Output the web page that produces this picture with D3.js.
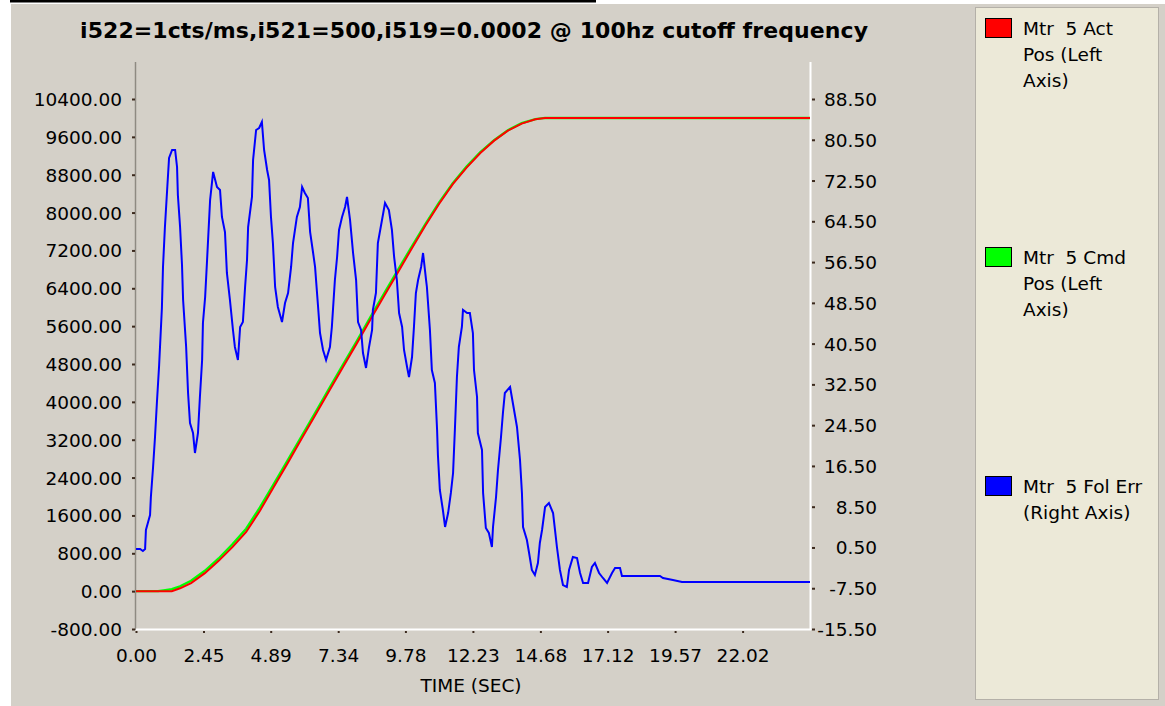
<!DOCTYPE html>
<html><head><meta charset="utf-8">
<script src="https://cdn.jsdelivr.net/npm/d3@7"></script>
<style>
body{margin:0;background:#fff;}
svg{display:block;}
text{font-family:"DejaVu Sans",sans-serif;}
</style>
</head><body>
<svg id="c" width="1165" height="706"></svg>
<script>
// ---------- data ----------
const chartTitle = "i522=1cts/ms,i521=500,i519=0.0002 @ 100hz cutoff frequency";
const xAxisTitle = "TIME (SEC)";
const xTicks = [0, 2.45, 4.89, 7.34, 9.78, 12.23, 14.68, 17.12, 19.57, 22.02];
const leftTicks = [-800, 0, 800, 1600, 2400, 3200, 4000, 4800, 5600, 6400, 7200, 8000, 8800, 9600, 10400];
const rightTicks = [-15.5, -7.5, 0.5, 8.5, 16.5, 24.5, 32.5, 40.5, 48.5, 56.5, 64.5, 72.5, 80.5, 88.5];
const xDomain = [0, 24.467];
const leftDomain = [-800, 10400];
const rightDomain = [-15.5, 88.5];

// position curves (left axis)
const posTime = [0, 0.8, 1.0, 1.3, 1.6, 2.0, 2.5, 3.0, 3.5, 4.0, 4.5, 5.0, 5.5, 6.0, 6.5, 7.0, 7.5, 8.0, 8.5, 9.0, 9.5, 10.0, 10.5, 11.0, 11.5, 12.0, 12.5, 13.0, 13.5, 14.0, 14.5, 14.85, 24.467];
const actPos  = [0, 0, 0, 0, 60, 170, 380, 640, 930, 1250, 1700, 2200, 2700, 3210, 3710, 4220, 4720, 5220, 5730, 6230, 6730, 7230, 7720, 8180, 8600, 8950, 9260, 9520, 9730, 9880, 9970, 10000, 10000];
const cmdPos  = [0, 0, 15, 40, 100, 220, 430, 690, 990, 1320, 1770, 2260, 2760, 3260, 3760, 4270, 4770, 5270, 5780, 6280, 6780, 7270, 7750, 8210, 8620, 8970, 9280, 9530, 9740, 9890, 9975, 10000, 10000];

// following error (right axis): [time, value]
const folErr = [
[0,0.2],[0.15,0.2],[0.25,-0.19],[0.33,0.2],[0.36,3.93],[0.44,5.5],[0.51,6.87],[0.54,10.4],[0.62,16.29],[0.69,22.18],
[0.76,29.04],[0.84,36.3],[0.94,47.49],[0.98,55.54],[1.05,63.38],[1.13,70.65],[1.20,76.92],[1.31,78.5],[1.42,78.5],[1.49,75.16],
[1.52,69.66],[1.60,63.38],[1.67,55.93],[1.71,49.06],[1.82,39.84],[1.89,30.81],[1.96,24.92],[2.07,22.96],[2.14,19.04],[2.25,22.96],
[2.32,30.03],[2.40,37.29],[2.43,44.55],[2.51,49.65],[2.58,56.91],[2.69,68.68],[2.80,74.18],[2.94,71.23],[3.05,70.65],[3.12,65.35],
[3.23,62.4],[3.30,54.36],[3.41,49.06],[3.52,43.17],[3.59,39.84],[3.70,37.29],[3.78,43.76],[3.88,44.74],[3.96,51.61],[4.03,56.91],
[4.07,63.38],[4.21,69.27],[4.25,76.53],[4.36,82.42],[4.47,82.81],[4.57,83.99],[4.65,78.5],[4.76,74.57],[4.83,72.61],[4.90,65.35],
[4.97,60.24],[5.05,51.61],[5.15,47.69],[5.30,44.74],[5.41,48.47],[5.52,50.43],[5.63,55.54],[5.70,60.24],[5.84,65.35],[5.95,67.31],
[6.03,71.23],[6.13,70.06],[6.24,69.08],[6.32,62.4],[6.43,58.28],[6.50,55.54],[6.61,47.69],[6.68,42.58],[6.79,39.25],[6.90,37.29],
[7.04,39.84],[7.11,43.76],[7.22,52.98],[7.30,57.5],[7.37,62.8],[7.48,65.35],[7.59,67.31],[7.66,69.27],[7.77,64.76],[7.88,58.28],
[7.99,52.98],[8.06,44.74],[8.17,43.17],[8.24,38.66],[8.35,35.72],[8.46,39.84],[8.57,43.17],[8.60,47.1],[8.71,50.43],[8.78,60.24],
[8.93,64.76],[9.04,68.09],[9.18,66.72],[9.29,62.8],[9.37,57.5],[9.47,52.98],[9.55,46.51],[9.66,43.76],[9.73,39.25],[9.84,35.91],
[9.91,33.95],[10.02,37.87],[10.09,43.76],[10.16,50.43],[10.24,52.98],[10.35,55.54],[10.42,58.28],[10.53,52.98],[10.56,51.61],[10.67,43.17],
[10.74,35.32],[10.85,32.77],[10.93,23.55],[10.96,18.64],[11.03,11.78],[11.14,7.85],[11.22,4.52],[11.33,7.26],[11.43,11.19],[11.51,15.11],
[11.58,24.14],[11.65,33.95],[11.72,39.84],[11.83,43.76],[11.87,47.1],[12.02,46.51],[12.12,46.51],[12.23,42.58],[12.27,35.32],[12.38,30.03],
[12.41,22.96],[12.56,19.63],[12.60,11.19],[12.70,4.32],[12.81,3.34],[12.92,0.59],[12.96,4.52],[13.07,10.4],[13.14,15.7],[13.25,22.18],
[13.32,26.89],[13.39,30.81],[13.58,31.99],[13.68,28.85],[13.83,24.14],[13.94,17.66],[14.01,11.19],[14.05,4.52],[14.19,1.96],[14.27,-0.59],
[14.37,-3.92],[14.48,-4.9],[14.59,-2.55],[14.66,1.38],[14.74,3.93],[14.85,8.44],[14.99,9.22],[15.14,7.26],[15.21,3.93],[15.28,0.59],
[15.39,-3.92],[15.50,-6.87],[15.64,-7.26],[15.72,-3.92],[15.86,-1.37],[16.01,-1.57],[16.12,-4.51],[16.23,-6.47],[16.41,-6.47],[16.55,-3.33],
[16.66,-2.55],[16.81,-4.51],[16.95,-5.49],[17.10,-6.47],[17.28,-4.51],[17.39,-3.53],[17.57,-3.53],[17.64,-5.10],[19.02,-5.10],[19.13,-5.49],
[19.49,-5.88],[19.82,-6.28],[24.467,-6.28]
];

const legendNames = [
  ["Mtr  5 Act", "Pos (Left", "Axis)"],
  ["Mtr  5 Cmd", "Pos (Left", "Axis)"],
  ["Mtr  5 Fol Err", "(Right Axis)"]
];
const seriesColors = ["#ff0000", "#00ff00", "#0000ff"];

// ---------- layout ----------
const W = 1165, H = 706;
const plot = {left: 136, right: 810, top: 62, bottom: 629};
const yTopTick = 99;
const FS = 18.5;

const svg = d3.select("#c");
svg.append("rect").attr("width", W).attr("height", H).attr("fill", "#ffffff");
svg.append("rect").attr("x", 11).attr("y", 4).attr("width", W - 11).attr("height", H - 4).attr("fill", "#d4d0c8");
svg.append("rect").attr("x", 10).attr("y", 0).attr("width", 586).attr("height", 2.5).attr("fill", "#000");

const x = d3.scaleLinear().domain(xDomain).range([plot.left, plot.right]);
const yL = d3.scaleLinear().domain(leftDomain).range([plot.bottom, yTopTick]);
const yR = d3.scaleLinear().domain(rightDomain).range([plot.bottom, yTopTick]);

// frame
svg.append("line").attr("x1", plot.left - 0.5).attr("x2", plot.left - 0.5)
  .attr("y1", plot.top).attr("y2", plot.bottom + 1).attr("stroke", "#8e8a82").attr("stroke-width", 1.5);
svg.append("line").attr("x1", plot.left).attr("x2", plot.right + 1)
  .attr("y1", plot.bottom + 0.5).attr("y2", plot.bottom + 0.5).attr("stroke", "#ffffff").attr("stroke-width", 2);
svg.append("line").attr("x1", plot.right + 0.5).attr("x2", plot.right + 0.5)
  .attr("y1", plot.top).attr("y2", plot.bottom + 1).attr("stroke", "#ffffff").attr("stroke-width", 2);

// axes
const fmt = d => d.toFixed(2);
const gL = svg.append("g").attr("transform", `translate(${plot.left},0)`)
  .call(d3.axisLeft(yL).tickValues(leftTicks).tickFormat(fmt).tickSize(4).tickPadding(10));
const gR = svg.append("g").attr("transform", `translate(${plot.right},0)`)
  .call(d3.axisRight(yR).tickValues(rightTicks).tickFormat(fmt).tickSize(4).tickPadding(10));
const gB = svg.append("g").attr("transform", `translate(0,${plot.bottom})`)
  .call(d3.axisBottom(x).tickValues(xTicks).tickFormat(fmt).tickSize(4).tickPadding(10));

[gL, gR, gB].forEach(g => {
  g.select(".domain").remove();
  g.attr("font-family", null).attr("font-size", null);
  g.selectAll("text").attr("fill", "#000").style("font-size", FS + "px");
  g.selectAll(".tick line").attr("stroke", "#3c2a1e").attr("stroke-width", 2);
});
gL.selectAll(".tick line").attr("x1", -4).attr("x2", -1);
gL.selectAll("text").attr("dy", "0.35em");
gR.selectAll(".tick line").attr("x1", 2).attr("x2", 5);
gR.selectAll("text").attr("x", 67).attr("text-anchor", "end").attr("dy", "0.35em");
gB.selectAll(".tick line").attr("y1", 2).attr("y2", 4);
gB.selectAll("text").attr("y", 19.5).attr("dy", "0.71em");

// axis title
svg.append("text").attr("x", (plot.left + plot.right) / 2 - 2).attr("y", 692)
  .attr("text-anchor", "middle").style("font-size", FS + "px").text(xAxisTitle);

// chart title
svg.append("text").attr("x", 80).attr("y", 38)
  .attr("textLength", 788).attr("lengthAdjust", "spacing")
  .style("font-size", "22px").style("font-weight", "bold").text(chartTitle);

// lines
const posLine = vals => d3.line().x((d, i) => x(posTime[i])).y(d => yL(d))(vals);
svg.append("path").attr("d", posLine(cmdPos)).attr("fill", "none")
  .attr("stroke", seriesColors[1]).attr("stroke-width", 2.4);
svg.append("path").attr("d", posLine(actPos)).attr("fill", "none")
  .attr("stroke", seriesColors[0]).attr("stroke-width", 2);
svg.append("path").attr("d", d3.line().x(d => x(d[0])).y(d => yR(d[1]))(folErr))
  .attr("fill", "none").attr("stroke", seriesColors[2]).attr("stroke-width", 2);

// legend panel
svg.append("rect").attr("x", 975.5).attr("y", 7.5).attr("width", 183).attr("height", 692)
  .attr("fill", "#ece9d8").attr("stroke", "#b4b0a8").attr("stroke-width", 1);

const legendTop = [28, 257, 486];
const lg = svg.append("g");
legendNames.forEach((lines, i) => {
  lg.append("rect").attr("x", 985.5).attr("y", legendTop[i] - 9.5).attr("width", 26).attr("height", 19)
    .attr("fill", seriesColors[i]).attr("stroke", "#000").attr("stroke-width", 1);
  lines.forEach((s, j) => {
    lg.append("text").attr("x", 1023).attr("y", legendTop[i] + 6.5 + j * 26)
      .style("font-size", FS + "px").style("white-space", "pre").attr("fill", "#000").text(s);
  });
});
</script>
</body></html>
